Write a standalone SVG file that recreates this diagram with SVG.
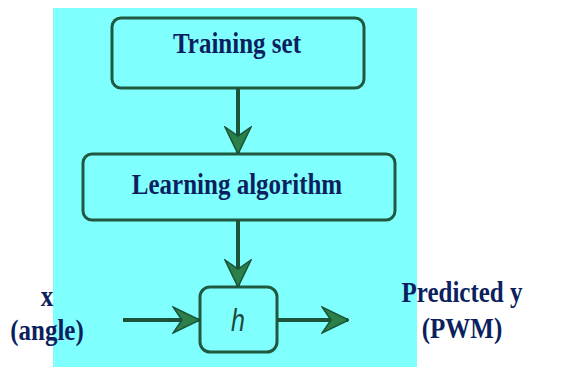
<svg xmlns="http://www.w3.org/2000/svg" width="585" height="367" viewBox="0 0 585 367">
<style>
.box{fill:#80ffff;stroke:#1f5a40;stroke-width:3}
.lbl{font-family:"Liberation Serif","Times New Roman",serif;font-weight:bold;font-size:25px;fill:#0c1f5e;text-anchor:middle}
.con{stroke:#1d5338;stroke-width:4;fill:none}
</style>
<defs>
<marker id="ah" viewBox="0 0 28 28" refX="27" refY="14" markerWidth="28" markerHeight="28" markerUnits="userSpaceOnUse" orient="auto">
<path d="M28,14 L1,1 L10,14 L1,27 Z" fill="#2a8048" stroke="#1d5338" stroke-width="1.5"/>
</marker>
</defs>
<rect x="0" y="0" width="585" height="367" fill="#ffffff"/>
<rect x="53" y="8" width="364" height="359" fill="#80ffff"/>
<g id="training-set">
<rect class="box" x="112" y="18" width="252" height="70" rx="9"/>
<text class="lbl" transform="translate(237,53) scale(1,1.15)">Training set</text>
</g>
<g id="learning-algorithm">
<rect class="box" x="83" y="154" width="312" height="66" rx="9"/>
<text class="lbl" transform="translate(237,194) scale(1,1.15)">Learning algorithm</text>
</g>
<g id="h">
<rect class="box" x="200" y="287" width="77" height="65" rx="10"/>
<text transform="translate(238,331) scale(1,1.25)" style="font-family:'Liberation Sans',Arial,sans-serif;font-style:italic;font-size:25px;fill:#1f4a3a;text-anchor:middle">h</text>
</g>
<g id="input-label">
<text class="lbl" transform="translate(47,306) scale(1,1.15)">x</text>
<text class="lbl" transform="translate(47,340) scale(1,1.15)">(angle)</text>
</g>
<g id="output-label">
<text class="lbl" transform="translate(462,302) scale(1,1.15)">Predicted y</text>
<text class="lbl" transform="translate(462,338) scale(1,1.15)">(PWM)</text>
</g>
<g id="connectors">
<line class="con" x1="238" y1="88" x2="238" y2="153" marker-end="url(#ah)"/>
<line class="con" x1="238" y1="220" x2="238" y2="286" marker-end="url(#ah)"/>
<line class="con" x1="123" y1="320" x2="199" y2="320" marker-end="url(#ah)"/>
<line class="con" x1="277" y1="320" x2="348" y2="320" marker-end="url(#ah)"/>
</g>
</svg>
